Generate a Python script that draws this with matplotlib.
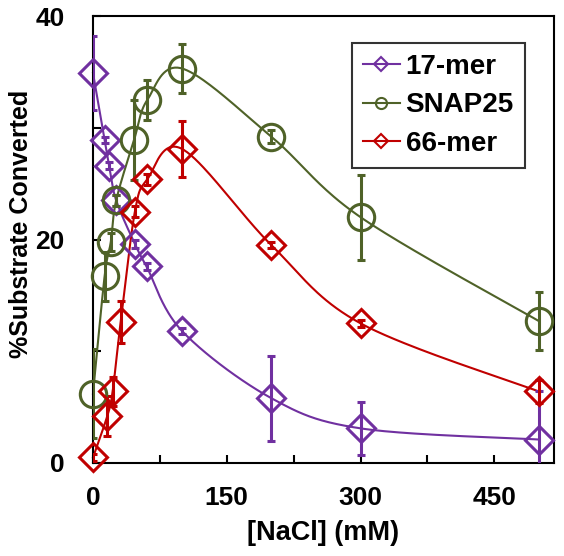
import numpy as np
import matplotlib
matplotlib.use("Agg")
import matplotlib.pyplot as plt
from matplotlib.lines import Line2D

plt.rcParams['font.family'] = ['Liberation Sans', 'DejaVu Sans']
plt.rcParams['font.weight'] = 'bold'

# data
x_17mer = np.array([0, 13, 18, 26, 47, 60, 100, 200, 300, 500])
y_17mer = np.array([34.9, 28.9, 26.6, 23.5, 19.6, 17.6, 11.8, 5.8, 3.1, 2.1])
e_17mer = np.array([3.3, 0.3, 0.3, 0.5, 0.4, 0.3, 0.3, 3.8, 2.4, 4.3])

x_snap = np.array([0, 13, 20, 26, 46, 61, 100, 200, 300, 500])
y_snap = np.array([6.2, 16.7, 19.8, 23.5, 28.9, 32.5, 35.3, 29.2, 22.0, 12.7])
e_snap = np.array([4.0, 2.2, 0.8, 0.5, 3.6, 1.8, 2.2, 0.6, 3.8, 2.6])

x_66mer = np.array([0, 16, 22, 31, 47, 61, 100, 200, 300, 500])
y_66mer = np.array([0.5, 4.2, 6.4, 12.6, 22.5, 25.4, 28.1, 19.5, 12.5, 6.4])
e_66mer = np.array([0.3, 1.8, 1.3, 1.9, 0.5, 0.5, 2.5, 0.3, 0.3, 1.0])

labels = ["17-mer", "SNAP25", "66-mer"]
colors = ["#7030A0", "#4F6228", "#C00000"]
markers = ["D", "o", "D"]

XMAX, YMAX = 517, 40
SX, SY = 461 / XMAX, 447 / YMAX   # px per unit, smoothing done in screen space


# Excel style smoothed line (bezier through the points)
def smooth_line(x, y, n=40):
    P = np.column_stack([x * SX, y * SY]).astype(float)
    out = []
    for i in range(len(P) - 1):
        p0 = P[i - 1] if i > 0 else P[i]
        p1, p2 = P[i], P[i + 1]
        p3 = P[i + 2] if i + 2 < len(P) else P[i + 1]
        c1 = p1 + (p2 - p0) / 6
        c2 = p2 - (p3 - p1) / 6
        t = np.linspace(0, 1, n)[:, None]
        seg = (1 - t) ** 3 * p1 + 3 * (1 - t) ** 2 * t * c1 + 3 * (1 - t) * t ** 2 * c2 + t ** 3 * p2
        out.append(seg)
    out = np.vstack(out)
    return out[:, 0] / SX, out[:, 1] / SY


fig = plt.figure(figsize=(5.64, 5.56), dpi=100)
ax = fig.add_axes([93 / 564, 1 - 463 / 556, 461 / 564, 447 / 556])

series = [(x_17mer, y_17mer, e_17mer), (x_snap, y_snap, e_snap), (x_66mer, y_66mer, e_66mer)]
handles = []
for (x, y, e), lab, col, mk in zip(series, labels, colors, markers):
    sx, sy = smooth_line(x, y)
    ax.plot(sx, sy, color=col, lw=1.5, clip_on=False, zorder=2)
    ax.errorbar(x, y, yerr=e, fmt="none", ecolor=col, elinewidth=2.2, capsize=3,
                capthick=2.2, zorder=3)
    ms = 14 if mk == "D" else 19
    ax.plot(x, y, linestyle="none", marker=mk, ms=ms, mfc="none", mec=col, mew=2.2,
            clip_on=False, zorder=4)
    handles.append(Line2D([0], [0], color=col, lw=1.5, marker=mk, ms=7 if mk == "D" else 8,
                          mfc="none", mec=col, mew=1.5))

ax.set_xlim(0, XMAX)
ax.set_ylim(0, YMAX)
ax.set_xticks([0, 150, 300, 450])
ax.set_xticks([75, 225, 375], minor=True)
ax.set_yticks([0, 20, 40])
ax.set_yticks([10, 30], minor=True)
ax.tick_params(which="both", direction="in", length=6, width=1.5, labelsize=19)
ax.tick_params(axis="x", pad=16.5)
ax.tick_params(axis="y", pad=20.5)
for sp in ax.spines.values():
    sp.set_linewidth(1.5)

ax.set_xlabel("[NaCl] (mM)", fontsize=19.5, fontweight="bold")
ax.xaxis.set_label_coords(0.5, -0.128)
ax.set_ylabel("%Substrate Converted", fontsize=18, fontweight="bold")
ax.yaxis.set_label_coords(-0.13, 0.535)

leg = ax.legend(handles, labels, loc="upper right", bbox_to_anchor=(525 / 564, 1 - 43 / 556),
                bbox_transform=fig.transFigure, fontsize=20, frameon=True, fancybox=False,
                edgecolor="black", handlelength=1.3, handletextpad=0.22, borderpad=0.4,
                labelspacing=0.44, borderaxespad=0)
leg.get_frame().set_linewidth(1.5)

fig.savefig("out.png", dpi=100)
